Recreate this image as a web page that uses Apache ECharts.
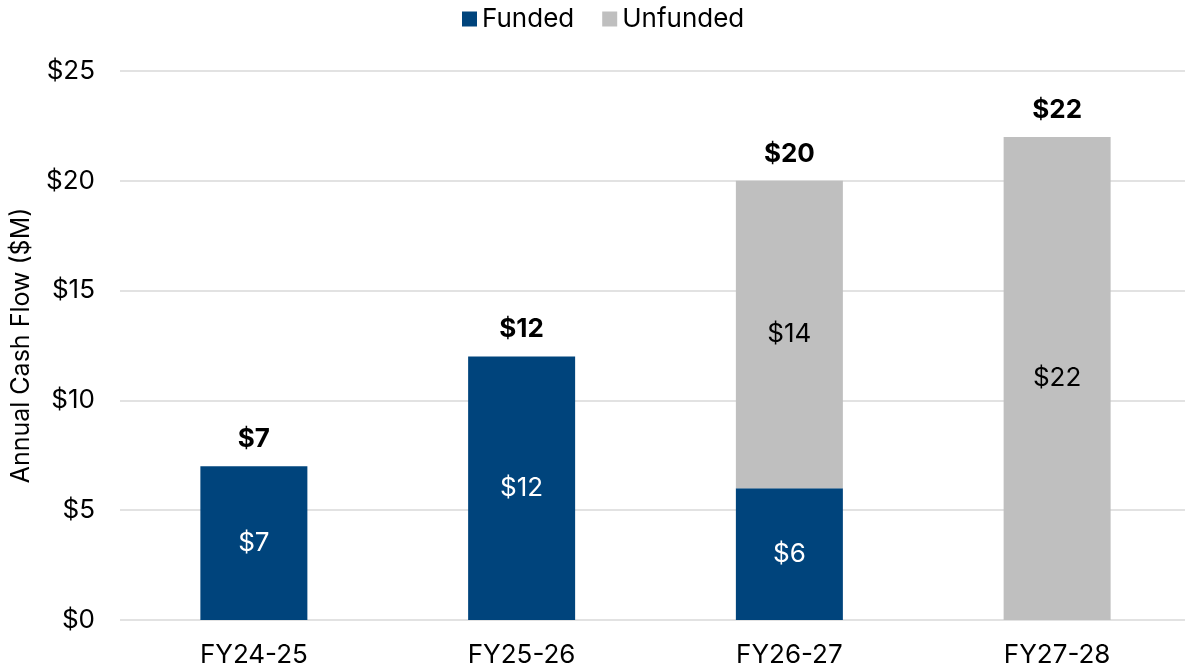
<!DOCTYPE html>
<html>
<head>
<meta charset="utf-8">
<script src="https://cdn.jsdelivr.net/npm/echarts@6/dist/echarts.min.js"></script>
<style>
  html, body { margin: 0; padding: 0; background: #fff; }
  #chart { width: 1185px; height: 670px; }
</style>
</head>
<body>
<div id="chart"></div>
<script>
// Annual cash flow by fiscal year, split into funded and unfunded amounts ($M)
const categories = ['FY24-25', 'FY25-26', 'FY26-27', 'FY27-28'];
const funded = [7, 12, 6, 0];
const unfunded = [0, 0, 14, 22];
const yTicks = [0, 5, 10, 15, 20, 25];

const totals = categories.map((_, i) => funded[i] + unfunded[i]);
const FONT = 'Inter, "Noto Sans", sans-serif';

const chart = echarts.init(document.getElementById('chart'), null, { renderer: 'canvas' });

const innerLabel = {
  show: true,
  position: 'inside',
  color: '#ffffff',
  fontFamily: FONT,
  fontSize: 26,
  formatter: p => (p.value ? '$' + p.value : '')
};

chart.setOption({
  animation: false,
  textStyle: { fontFamily: FONT },
  legend: {
    data: ['Funded', 'Unfunded'],
    top: 1,
    left: 457,
    itemWidth: 15,
    itemHeight: 15,
    itemGap: 28,
    icon: 'rect',
    textStyle: { fontFamily: FONT, fontSize: 26, color: '#000' }
  },
  grid: { left: 120, right: -6, top: 71, bottom: 50, outerBoundsMode: 'none', containLabel: false },
  xAxis: {
    type: 'category',
    data: categories,
    axisLine: { show: false },
    axisTick: { show: false },
    axisLabel: { fontFamily: FONT, fontSize: 26, color: '#000', margin: 22 }
  },
  yAxis: {
    type: 'value',
    min: yTicks[0],
    max: yTicks[yTicks.length - 1],
    interval: 5,
    name: 'Annual Cash Flow ($M)',
    nameLocation: 'middle',
    nameGap: 86,
    nameTextStyle: { fontFamily: FONT, fontSize: 25, color: '#000' },
    axisLabel: { fontFamily: FONT, fontSize: 26, color: '#000', margin: 25, formatter: v => '$' + v },
    splitLine: { lineStyle: { color: '#d9d9d9', width: 1.5 } },
    axisLine: { show: false },
    axisTick: { show: false }
  },
  series: [
    {
      name: 'Funded',
      type: 'bar',
      stack: 'cash',
      data: funded,
      barWidth: 107,
      itemStyle: { color: '#00447c' },
      label: innerLabel
    },
    {
      name: 'Unfunded',
      type: 'bar',
      stack: 'cash',
      data: unfunded,
      barWidth: 107,
      itemStyle: { color: '#bfbfbf' },
      label: Object.assign({}, innerLabel, { color: '#000' })
    },
    {
      // zero-height cap on each stack that carries the total label
      name: 'Total',
      type: 'bar',
      stack: 'cash',
      data: categories.map(() => 0),
      barWidth: 107,
      itemStyle: { color: 'transparent' },
      label: {
        show: true,
        position: 'top',
        distance: 14,
        color: '#000',
        fontFamily: FONT,
        fontSize: 26,
        fontWeight: 'bold',
        formatter: p => '$' + totals[p.dataIndex]
      },
      silent: true
    }
  ]
});
</script>
</body>
</html>
